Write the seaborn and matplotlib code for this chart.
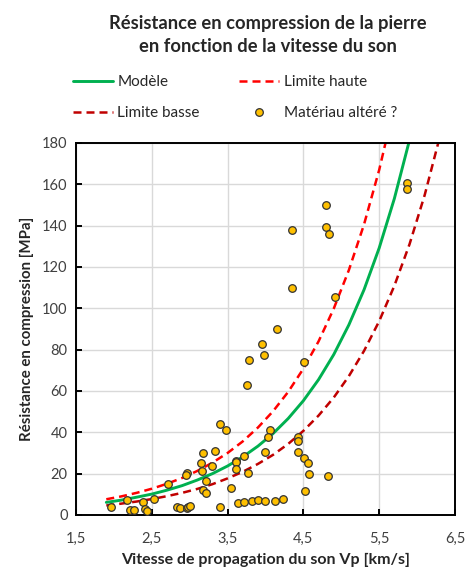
import numpy as np
import pandas as pd
import seaborn as sns
import matplotlib.pyplot as plt
from matplotlib.lines import Line2D
from matplotlib.ticker import FuncFormatter

vp = [1.96, 2.17, 2.21, 2.27, 2.38, 2.41, 2.44, 2.53, 2.71,
      2.83, 2.87, 2.96, 2.98, 3.01, 2.96, 2.955,
      3.15, 3.16, 3.175, 3.34, 3.29, 3.22, 3.175, 3.215,
      3.40, 3.48, 3.40, 3.545, 3.615, 3.61, 3.615, 3.72, 3.765,
      3.64, 3.72, 3.82, 3.905, 3.99, 4.125, 4.227,
      4.00, 4.06, 4.03,
      3.756, 3.778, 3.98, 3.954, 4.156, 4.508,
      4.35, 4.35, 4.80, 4.80, 4.84, 4.917, 5.863, 5.863,
      4.425, 4.425, 4.425, 4.504, 4.565, 4.57, 4.829, 4.525]
rc = [3.7, 7.2, 2.4, 2.4, 6.2, 3.0, 2.0, 7.6, 14.8,
      3.8, 3.4, 3.2, 4.0, 4.5, 20.2, 19.2,
      25.0, 21.4, 30.2, 31.0, 23.7, 16.6, 12.1, 10.5,
      44.0, 41.1, 3.7, 12.9, 26.3, 25.5, 22.1, 28.5, 20.5,
      5.7, 6.4, 6.8, 7.3, 6.6, 6.6, 7.6,
      30.3, 41.1, 37.9,
      62.9, 75.0, 77.3, 82.6, 89.8, 73.9,
      110.0, 137.7, 150.0, 139.2, 136.1, 105.6, 160.8, 157.9,
      37.9, 35.8, 30.3, 27.7, 25.3, 19.7, 18.9, 11.6]

# courbes
x_curve = [1.9, 2.1, 2.3, 2.5, 2.7, 2.9, 3.1, 3.3, 3.5, 3.7, 3.9,
           4.1, 4.3, 4.5, 4.7, 4.9, 5.1, 5.3, 5.5, 5.7, 5.9, 6.1, 6.3]
modele = [6.1, 7.2, 8.6, 10.1, 12.0, 14.2, 16.9, 20.0, 23.7, 28.1, 33.3,
          39.4, 46.7, 55.3, 65.5, 77.6, 92.0, 109.0, 129.2, 153.1, 181.4, None, None]
lim_haute = [7.6, 9.0, 10.7, 12.7, 15.1, 17.9, 21.3, 25.3, 30.0, 35.6, 42.3,
             50.2, 59.6, 70.8, 84.0, 99.8, 118.5, 140.6, 167.0, 198.3, None, None, None]
lim_basse = [4.6, 5.5, 6.5, 7.7, 9.1, 10.7, 12.6, 14.9, 17.7, 20.9, 24.7,
             29.1, 34.4, 40.7, 48.1, 56.8, 67.2, 79.4, 93.8, 110.9, 131.0, 154.8, 183.0]

x_ticks = [1.5, 2.5, 3.5, 4.5, 5.5, 6.5]
y_ticks = list(range(0, 181, 20))

sns.set_theme(style="whitegrid")
plt.rcParams['font.family'] = ['Lato', 'DejaVu Sans']

fig = plt.figure(figsize=(4.67, 5.72), dpi=100)
ax = fig.add_axes([0.1627, 0.0997, 0.8116, 0.6503])

curves = pd.DataFrame({"x": x_curve, "modele": modele,
                       "haute": lim_haute, "basse": lim_basse})
pts = pd.DataFrame({"vp": vp, "rc": rc})

green = "#00B050"
red = "#FF0000"
dark_red = "#C00000"
dash = [3.2, 2.0]

sns.lineplot(data=curves, x="x", y="modele", color=green, lw=2.1, ax=ax)
sns.lineplot(data=curves, x="x", y="haute", color=red, lw=1.8, ax=ax)
sns.lineplot(data=curves, x="x", y="basse", color=dark_red, lw=1.8, ax=ax)
ax.lines[1].set_dashes(dash)
ax.lines[2].set_dashes(dash)
sns.scatterplot(data=pts, x="vp", y="rc", color="#FFC000", edgecolor="#333333",
                linewidth=0.9, s=30, ax=ax, zorder=5)

ax.set_xlim(1.5, 6.5)
ax.set_ylim(0, 180)
ax.set_xticks(x_ticks)
ax.set_yticks(y_ticks)
ax.xaxis.set_major_formatter(FuncFormatter(lambda v, p: f"{v:.1f}".replace(".", ",")))
ax.grid(True, color="#D9D9D9", lw=1.0)
for s in ax.spines.values():
    s.set_color("black")
    s.set_linewidth(1.4)
ax.tick_params(direction="in", length=4, width=1.4, color="black",
               labelsize=10.5, labelcolor="#404040")
ax.tick_params(axis="x", pad=12)
ax.tick_params(axis="y", pad=6)
ax.tick_params(bottom=True, left=True)

ax.set_xlabel("Vitesse de propagation du son Vp [km/s]", fontsize=11.5,
              fontweight="bold", color="#262626", labelpad=5)
ax.set_ylabel("Résistance en compression [MPa]", fontsize=10.8,
              fontweight="bold", color="#262626", labelpad=6)

fig.text(0.573, 0.974, "Résistance en compression de la pierre\nen fonction de la vitesse du son",
         ha="center", va="top", fontsize=13.2, fontweight="bold", color="#262626",
         linespacing=1.45)

handles = [
    Line2D([], [], color=green, lw=2.1),
    Line2D([], [], color=dark_red, lw=1.8, dashes=dash),
    Line2D([], [], color=red, lw=1.8, dashes=dash),
    Line2D([], [], ls="", marker="o", markerfacecolor="#FFC000",
           markeredgecolor="#333333", markersize=5.5, markeredgewidth=0.9),
]
labels = ["Modèle", "Limite basse", "Limite haute", "Matériau altéré ?"]
leg = fig.legend(handles, labels, ncol=2, frameon=False, fontsize=11,
                 loc="center left", bbox_to_anchor=(0.156, 0.829),
                 borderpad=0, borderaxespad=0, handlelength=2.6,
                 handletextpad=0.3, columnspacing=2.6, labelspacing=1.1)
for t in leg.get_texts():
    t.set_color("#262626")

fig.savefig("out.png", dpi=100)
